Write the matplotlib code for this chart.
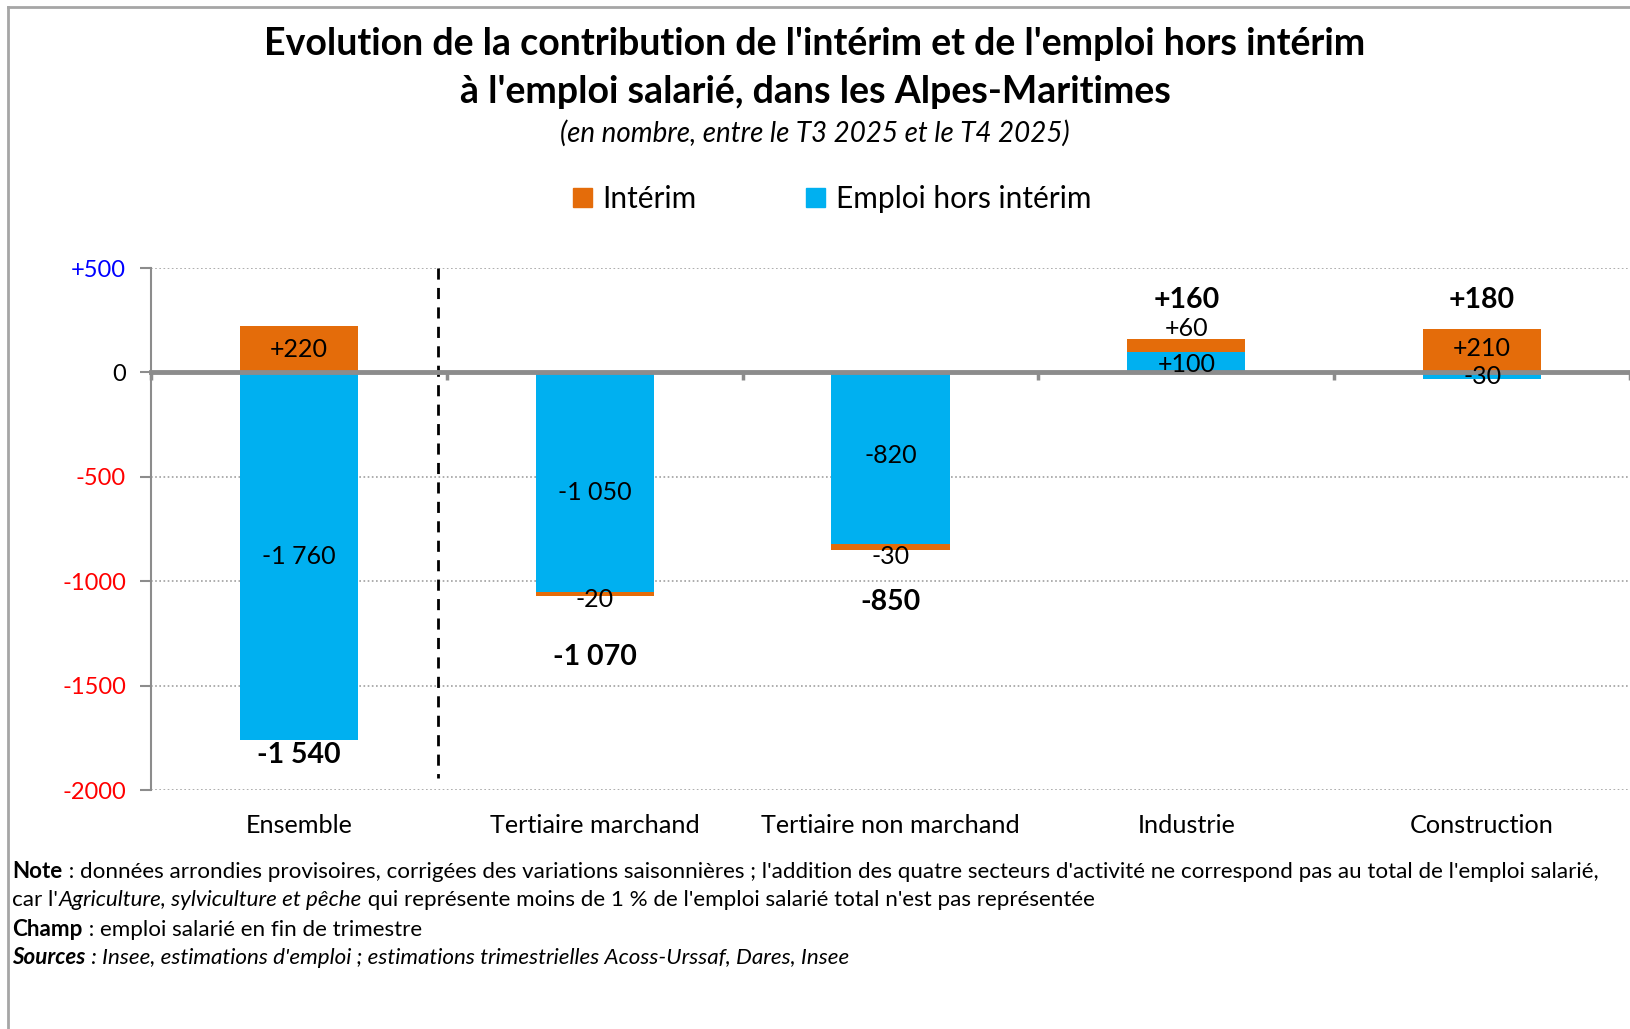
# contribution de l'interim et de l'emploi hors interim a l'emploi salarie, Alpes-Maritimes
import matplotlib
matplotlib.use('Agg')
import matplotlib.pyplot as plt
import numpy as np
from matplotlib.lines import Line2D
from matplotlib.patches import Patch
from matplotlib.transforms import offset_copy

plt.rcParams['font.family'] = ['Lato', 'DejaVu Sans']

### data ###
categories = ["Ensemble", "Tertiaire marchand", "Tertiaire non marchand", "Industrie", "Construction"]
interim = [220, -20, -30, 60, 210]
emploi = [-1760, -1050, -820, 100, -30]
totals = [-1540, -1070, -850, 160, 180]

yticks = [500, 0, -500, -1000, -1500, -2000]
ytick_labels = ["+500", "0", "-500", "-1000", "-1500", "-2000"]

# where the labels sit (data y), as placed in the original
label_y_interim = [110, -1090, -880, 209, 114]
label_y_emploi = [-880, -573, -398, 40, -20]
label_y_totals = [-1830, -1364, -1100, 348, 348]

ORANGE = '#E46C0A'
BLUE = '#00B0F0'
GREY = '#8c8c8c'


def fmt(v):
	return "{:+,}".format(v).replace(",", " ") if v > 0 else "{:,}".format(v).replace(",", " ")


W, H = 1630, 1029
fig = plt.figure(figsize=(W / 100, H / 100), dpi=100)
ax = fig.add_axes([151 / W, 1 - 790 / H, 1 - 151 / W, (790 - 268) / H])

x = np.arange(len(categories))
emploi = np.array(emploi)
interim = np.array(interim)
# interim stacks on emploi only when both have the same sign
bottom_int = np.where(np.sign(interim) == np.sign(emploi), emploi, 0)

ax.bar(x, emploi, width=0.4, color=BLUE, zorder=1)
ax.bar(x, interim, width=0.4, bottom=bottom_int, color=ORANGE, zorder=1)

for i in range(len(categories)):
	ax.text(x[i], label_y_interim[i], fmt(interim[i]), ha='center', va='center', fontsize=18, zorder=4)
	ax.text(x[i], label_y_emploi[i], fmt(emploi[i]), ha='center', va='center', fontsize=18, zorder=4)
	ax.text(x[i], label_y_totals[i], fmt(totals[i]), ha='center', va='center', fontsize=20.5,
		fontweight='bold', zorder=4)
	ax.text(x[i], -2000, categories[i], ha='center', va='center', fontsize=18.2,
		transform=offset_copy(ax.transData, fig=fig, y=-35, units='dots'))

# separator between total and sectors
ax.plot([0.47, 0.47], [500, -1942], color='black', lw=2, ls=(0, (4, 3)), zorder=3)

ax.set_xlim(-0.5, 4.5)
ax.set_ylim(-2000, 500)
ax.set_yticks(yticks)
ax.set_yticklabels(ytick_labels, fontsize=17)
for lab, v in zip(ax.get_yticklabels(), yticks):
	if v > 0:
		lab.set_color('#0000FF')
	elif v < 0:
		lab.set_color('#FF0000')
	else:
		lab.set_color('black')
ax.tick_params(axis='y', direction='out', length=8, width=1.5, color=GREY, pad=10)
ax.set_xticks(np.arange(-0.5, 5, 1))
ax.set_xticklabels([])
ax.tick_params(axis='x', direction='out', length=6, width=2.5, color=GREY)

ax.yaxis.grid(True, linestyle=(0, (1, 1.5)), color='#a0a0a0', lw=1.2)
ax.set_axisbelow(True)
for s in ['top', 'right']:
	ax.spines[s].set_visible(False)
ax.spines['left'].set_color(GREY)
ax.spines['left'].set_linewidth(1.5)
ax.spines['bottom'].set_position(('data', 0))
ax.spines['bottom'].set_color(GREY)
ax.spines['bottom'].set_linewidth(3.5)
ax.spines['bottom'].set_zorder(3)

# titles
fig.text(0.5, 1 - 44 / H, "Evolution de la contribution de l'intérim et de l'emploi hors intérim",
	ha='center', va='center', fontsize=27, fontweight='bold')
fig.text(0.5, 1 - 92 / H, "à l'emploi salarié, dans les Alpes-Maritimes",
	ha='center', va='center', fontsize=27, fontweight='bold')
fig.text(0.5, 1 - 133 / H, "(en nombre, entre le T3 2025 et le T4 2025)",
	ha='center', va='center', fontsize=20, style='italic')

handles = [Patch(color=ORANGE, label='Intérim'), Patch(color=BLUE, label='Emploi hors intérim')]
fig.legend(handles=handles, loc='center', bbox_to_anchor=(832 / W, 1 - 199 / H), ncol=2, frameon=False,
	fontsize=21.5, handlelength=0.65, handleheight=0.65, handletextpad=0.35, columnspacing=3.65)

# notes with mixed styles
notes = [
	[("Note", 'bold', 'normal'), (" : données arrondies provisoires, corrigées des variations saisonnières ; l'addition des quatre secteurs d'activité ne correspond pas au total de l'emploi salarié,", 'normal', 'normal')],
	[("car l'", 'normal', 'normal'), ("Agriculture, sylviculture et pêche", 'normal', 'italic'), (" qui représente moins de 1 % de l'emploi salarié total n'est pas représentée", 'normal', 'normal')],
	[("Champ", 'bold', 'normal'), (" : emploi salarié en fin de trimestre", 'normal', 'normal')],
	[("Sources", 'bold', 'italic'), (" : Insee, estimations d'emploi ; estimations trimestrielles Acoss-Urssaf, Dares, Insee", 'normal', 'italic')],
]
note_y = [871, 900, 929, 958]
for line, yy in zip(notes, note_y):
	prev = None
	for txt, w, st in line:
		if prev is None:
			prev = fig.text(12.5 / W, 1 - yy / H, txt, ha='left', va='center', fontsize=16.1, fontweight=w, style=st)
		else:
			prev = ax.annotate(txt, xy=(1, 0), xycoords=prev, ha='left', va='bottom', fontsize=16.1,
				fontweight=w, style=st)

# frame of the original picture (left and top edges only)
fig.add_artist(Line2D([8 / W, 8 / W], [0, 1 - 7 / H], transform=fig.transFigure, color='#a6a6a6', lw=2))
fig.add_artist(Line2D([8 / W, 1], [1 - 7 / H, 1 - 7 / H], transform=fig.transFigure, color='#a6a6a6', lw=2))

plt.savefig("out.png", dpi=100)
plt.close()
